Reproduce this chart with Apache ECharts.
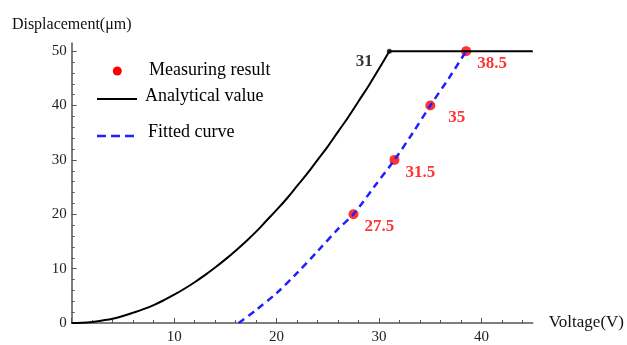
<!DOCTYPE html>
<html><head><meta charset="utf-8">
<script src="https://cdn.jsdelivr.net/npm/echarts@6/dist/echarts.min.js"></script>
<style>html,body{margin:0;padding:0;background:#fff}#c{width:627px;height:345px}</style>
</head><body><div id="c"></div>
<script>
const measuredV = [27.5, 31.5, 35, 38.5];
const measuredD = [20, 30, 40, 50];
const analyticV = [0,1,2,3,4,5,6,7,8,9,10,11,12,13,14,15,16,17,18,19,20,21,22,23,24,25,26,27,28,29,30,31];
const analyticD = [0,0.05,0.2,0.47,0.8,1.3,1.9,2.55,3.3,4.2,5.2,6.3,7.5,8.8,10.2,11.7,13.3,15,16.8,18.8,20.8,22.9,25.2,27.5,30,32.5,35.2,37.9,40.8,43.7,46.8,50];
const saturatedV = [31, 45];
const saturatedD = [50, 50];
const fittedV = [16.3,18,20,22,24,26,27.5,29.5,31.5,33.3,35,36.8,38.5];
const fittedD = [0,2.4,5.5,9.2,13.2,17.3,20,25,30,35,40,45,50];
const xMajorTicks = [0,10,20,30,40];
const xMinorTicks = [2,4,6,8,12,14,16,18,22,24,26,28,32,34,36,38,42,44];
const yMajorTicks = [0,10,20,30,40,50];
const yMinorTicks = [2,4,6,8,12,14,16,18,22,24,26,28,32,34,36,38,42,44,46,48];

const serif = '"Liberation Serif", "DejaVu Serif", serif';
const axisColor = '#555';
const chart = echarts.init(document.getElementById('c'), null, {renderer:'canvas'});

const scatterData = measuredV.map((v,i)=>{
  const item = {value:[v, measuredD[i]]};
  if (v === 35) item.label = {offset:[7,12]};
  return item;
});

chart.setOption({
  animation:false,
  grid:{left:71.7, top:43, right:94, bottom:18.3, containLabel:false},
  xAxis:[{
    type:'value', min:0, max:45, position:'bottom',
    name:'Voltage(V)', nameLocation:'end', nameGap:16,
    nameTextStyle:{fontFamily:serif, fontSize:17, color:'#111', verticalAlign:'middle', padding:[13,0,0,0]},
    axisLine:{lineStyle:{color:axisColor, width:1.5}},
    axisTick:{inside:true, length:5, customValues:xMajorTicks, lineStyle:{color:axisColor}},
    axisLabel:{customValues:xMajorTicks.filter(v=>v>0), fontFamily:serif, fontSize:15, color:'#222', margin:7},
    splitLine:{show:false}
  },{
    type:'value', min:0, max:45, position:'bottom',
    axisLine:{show:false},
    axisTick:{inside:true, length:3, customValues:xMinorTicks, lineStyle:{color:axisColor}},
    axisLabel:{show:false}, splitLine:{show:false}
  }],
  yAxis:[{
    type:'value', min:0, max:51.5, position:'left',
    name:'Displacement(μm)', nameLocation:'end', nameGap:10,
    nameTextStyle:{fontFamily:serif, fontSize:16, color:'#111', align:'center'},
    axisLine:{lineStyle:{color:axisColor, width:1.5}},
    axisTick:{inside:true, length:5, customValues:yMajorTicks, lineStyle:{color:axisColor}},
    axisLabel:{customValues:yMajorTicks, fontFamily:serif, fontSize:15, color:'#222', margin:5},
    splitLine:{show:false}
  },{
    type:'value', min:0, max:51.5, position:'left',
    axisLine:{show:false},
    axisTick:{inside:true, length:3, customValues:yMinorTicks, lineStyle:{color:axisColor}},
    axisLabel:{show:false}, splitLine:{show:false}
  }],
  series:[
    {
      name:'Measuring result', type:'scatter', z:1,
      symbol:'circle', symbolSize:10, itemStyle:{color:'#ff0000'},
      data:scatterData,
      label:{show:true, position:'right', distance:6, offset:[0,12.5],
        formatter:p=>String(p.value[0]), fontFamily:serif, fontSize:17, fontWeight:'bold', color:'#ff0000'}
    },
    {
      name:'Analytical value', type:'line', z:3, showSymbol:false, smooth:0.4,
      lineStyle:{color:'#000', width:2},
      data:analyticV.map((v,i)=>[v, analyticD[i]])
    },
    {
      name:'Analytical value (saturated)', type:'line', z:3, showSymbol:false,
      lineStyle:{color:'#000', width:2},
      data:saturatedV.map((v,i)=>[v, saturatedD[i]])
    },
    {
      name:'Fitted curve', type:'line', z:4, showSymbol:false, smooth:0.3,
      lineStyle:{color:'#1f1fff', width:2.5, type:[7,5]},
      data:fittedV.map((v,i)=>[v, fittedD[i]])
    },
    {
      name:'corner', type:'scatter', z:5, symbol:'circle', symbolSize:5,
      itemStyle:{color:'#000'},
      data:[[saturatedV[0], saturatedD[0]]],
      label:{show:true, position:'left', distance:14, offset:[0,10.7],
        formatter:p=>String(p.value[0]), fontFamily:serif, fontSize:17, fontWeight:'bold', color:'#000'}
    }
  ],
  graphic:[
    {type:'circle', shape:{cx:117.3, cy:71, r:4.5}, style:{fill:'#ff0000'}},
    {type:'text', left:149, top:61, style:{text:'Measuring result', font:'18px '+serif, fill:'#000'}},
    {type:'line', shape:{x1:97, y1:99, x2:137, y2:99}, style:{stroke:'#000', lineWidth:2}},
    {type:'text', left:145, top:87, style:{text:'Analytical value', font:'18px '+serif, fill:'#000'}},
    {type:'line', shape:{x1:97, y1:136, x2:134, y2:136}, style:{stroke:'#1f1fff', lineWidth:2.5, lineDash:[9,5]}},
    {type:'text', left:148, top:123, style:{text:'Fitted curve', font:'18px '+serif, fill:'#000'}}
  ]
});
</script></body></html>
